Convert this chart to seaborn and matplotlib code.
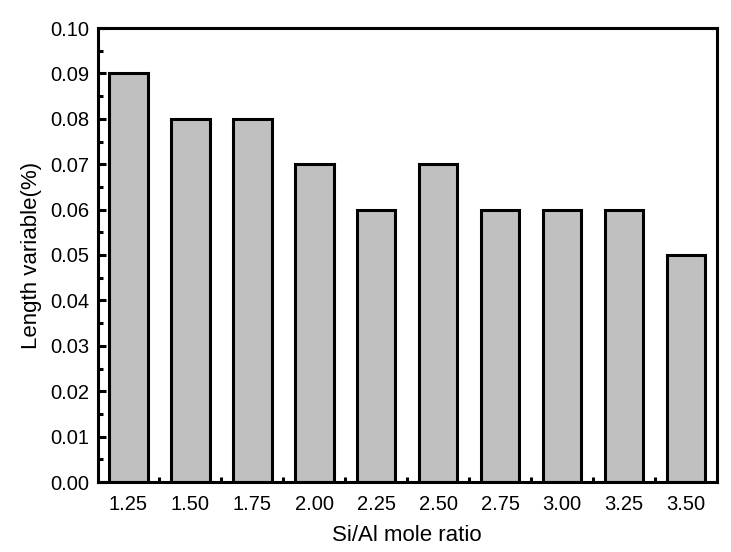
import matplotlib
matplotlib.use("Agg")
import matplotlib.pyplot as plt
from matplotlib.ticker import MultipleLocator
import pandas as pd
import seaborn as sns

# valores
ratios = ["1.25", "1.50", "1.75", "2.00", "2.25", "2.50", "2.75", "3.00", "3.25", "3.50"]
length_var = [0.09, 0.08, 0.08, 0.07, 0.06, 0.07, 0.06, 0.06, 0.06, 0.05]

df = pd.DataFrame({"ratio": ratios, "length": length_var})

sns.set_theme(style="white")
plt.rcParams['font.family'] = ['Liberation Sans', 'DejaVu Sans']

fig = plt.figure(figsize=(7.31, 5.52), dpi=100)
ax = fig.add_axes([97.5 / 731, 1 - 482 / 552, (717 - 97.5) / 731, (482 - 28) / 552])

sns.barplot(data=df, x="ratio", y="length", color="#c0c0c0", saturation=1,
            width=0.62, edgecolor="black", linewidth=2.2, ax=ax)

ax.set_xlim(-0.5, 9.5)
ax.set_ylim(0, 0.10)
ax.yaxis.set_major_locator(MultipleLocator(0.01))
ax.yaxis.set_minor_locator(MultipleLocator(0.005))
ax.yaxis.set_major_formatter(plt.FormatStrFormatter('%.2f'))
ax.set_xticks(range(len(ratios)))
ax.set_xticks([i + 0.5 for i in range(len(ratios) - 1)], minor=True)

for s in ax.spines.values():
    s.set_linewidth(2.2)
    s.set_color("black")

ax.tick_params(axis="both", which="both", direction="in", color="black",
               labelsize=14.5, labelcolor="black")
ax.tick_params(axis="both", which="major", length=6, width=2.2)
ax.tick_params(axis="both", which="minor", length=3.5, width=2.2)
ax.tick_params(axis="x", which="major", pad=9)
ax.tick_params(axis="y", which="major", pad=6)
ax.tick_params(axis="y", which="both", left=True, right=False)
ax.tick_params(axis="x", which="both", bottom=True, top=False)

ax.set_xlabel("Si/Al mole ratio", fontsize=16, color="black", labelpad=8)
ax.set_ylabel("Length variable(%)", fontsize=16, color="black", labelpad=6)

fig.savefig("out.png", dpi=100)
plt.close(fig)
